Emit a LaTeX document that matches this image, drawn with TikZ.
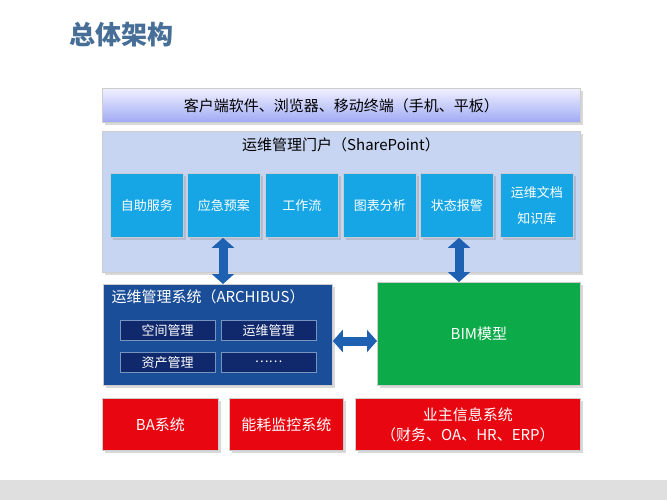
\documentclass[tikz,border=0pt]{standalone}
\usepackage{fontspec}
\setmainfont{Noto Sans CJK SC}
\usetikzlibrary{arrows.meta,positioning,shadows}
\definecolor{portalfill}{RGB}{200,213,242}
\definecolor{cellblue}{RGB}{22,166,229}
\definecolor{navy}{RGB}{27,78,152}
\definecolor{deepnavy}{RGB}{16,40,108}
\definecolor{arrowblue}{RGB}{30,96,178}
\definecolor{bimgreen}{RGB}{12,170,72}
\definecolor{redbox}{RGB}{232,6,16}
\definecolor{titlegray}{RGB}{70,110,150}
\tikzset{
  panel/.style={draw=gray!40, line width=0.8pt, anchor=north west, inner sep=0pt, drop shadow={opacity=0.3}},
  cell/.style={panel, fill=cellblue, text=white, font=\fontsize{13}{16}\selectfont, align=center,
    minimum width=73pt, minimum height=64pt},
  sub/.style={anchor=north west, fill=deepnavy, draw=navy!60, text=white, font=\fontsize{13}{15}\selectfont,
    minimum width=95pt, minimum height=20pt, inner sep=0pt},
  bottombox/.style={panel, fill=redbox, text=white, font=\fontsize{15}{20}\selectfont, align=center,
    minimum height=52pt},
  dblarrow/.style={{Triangle[width=22pt,length=10pt]}-{Triangle[width=22pt,length=10pt]}, line width=9pt, arrowblue}
}
\begin{document}
\begin{tikzpicture}[x=1pt, y=-1pt]
  \useasboundingbox (0,0) rectangle (667,500);
  \fill[gray!25] (0,480) rectangle (667,500);
  % title
  \node[anchor=west, text=titlegray, font=\fontsize{26}{30}\selectfont\bfseries] (title) at (66,35) {总体架构};
  % client layer
  \node[panel, top color=blue!6, bottom color=portalfill!80!blue, minimum width=478pt, minimum height=34pt,
        font=\fontsize{15}{18}\selectfont] (client) at (102,88) {客户端软件、浏览器、移动终端（手机、平板）};
  % portal
  \node[panel, fill=portalfill, minimum width=478pt, minimum height=141pt] (portal) at (102,131) {};
  \node[font=\fontsize{15}{18}\selectfont] (portaltitle) at (341,145) {运维管理门户（SharePoint）};
  \node[cell] (c1) at (110,173) {自助服务};
  \node[cell] (c2) at (187,173) {应急预案};
  \node[cell] (c3) at (265,173) {工作流};
  \node[cell] (c4) at (343,173) {图表分析};
  \node[cell] (c5) at (420,173) {状态报警};
  \node[cell, font=\fontsize{13}{26}\selectfont] (c6) at (500,173) {运维文档\\知识库};
  % ARCHIBUS
  \node[panel, fill=navy, minimum width=229pt, minimum height=101pt] (archibus) at (103,284) {};
  \node[anchor=west, text=white, font=\fontsize{15}{18}\selectfont] (archtitle) at (108,297) {运维管理系统（ARCHIBUS）};
  \node[sub] (space) at (120,320) {空间管理};
  \node[sub] (ops) at (221,320) {运维管理};
  \node[sub] (asset) at (120,352) {资产管理};
  \node[sub] (more) at (221,352) {……};
  % BIM
  \node[panel, fill=bimgreen, text=white, minimum width=203pt, minimum height=103pt,
        font=\fontsize{15}{18}\selectfont] (bim) at (377,282) {BIM模型};
  % bottom
  \node[bottombox, minimum width=116pt] (ba) at (102,398) {BA系统};
  \node[bottombox, minimum width=114pt] (energy) at (229,398) {能耗监控系统};
  \node[bottombox, minimum width=225pt] (owner) at (355,398) {业主信息系统\\（财务、OA、HR、ERP）};
  % arrows
  \draw[dblarrow] (c2.south -| 223,0) -- (archibus.north -| 223,0);
  \draw[dblarrow] (c5.south -| 459,0) -- (bim.north -| 459,0);
  \draw[dblarrow] (archibus.east |- 0,341) -- (bim.west |- 0,341);
\end{tikzpicture}
\end{document}
